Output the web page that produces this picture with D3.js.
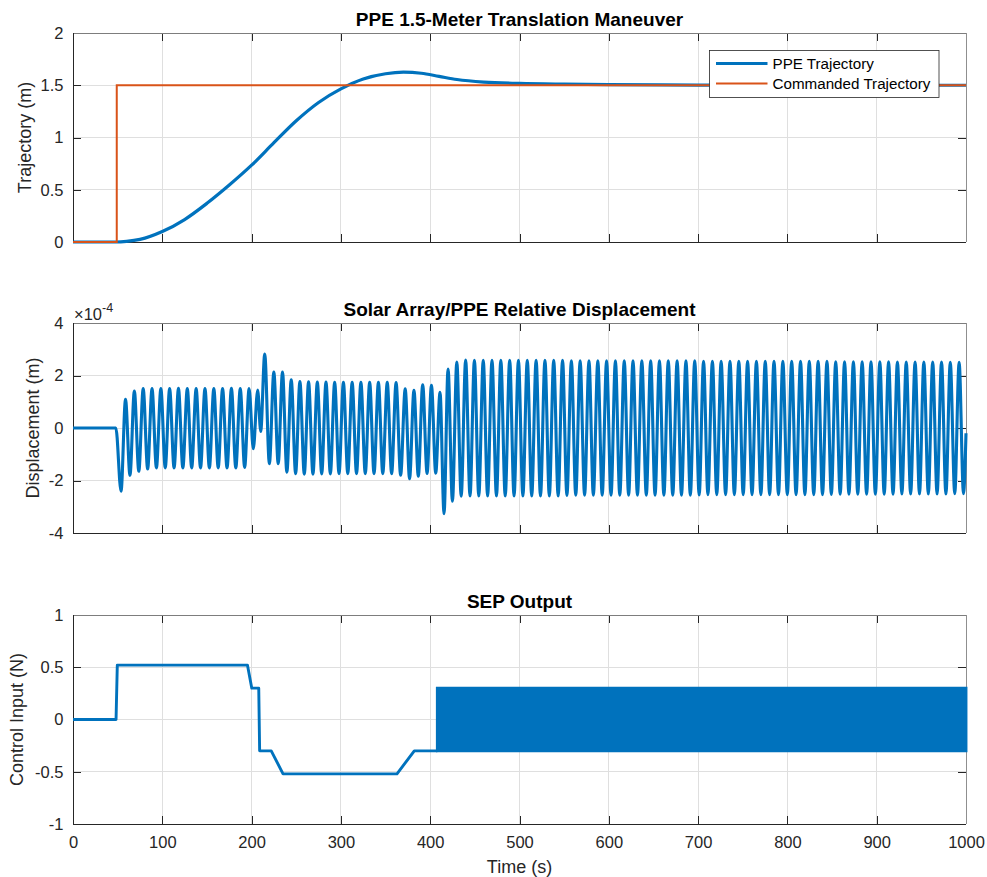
<!DOCTYPE html>
<html>
<head>
<meta charset="utf-8">
<script src="https://cdn.jsdelivr.net/npm/d3@7"></script>
<style>
  body { margin: 0; background: #fff; }
  svg { display: block; }
  text { font-family: "Liberation Sans", Arial, Helvetica, sans-serif; }
</style>
</head>
<body>
<svg id="chart" width="987" height="877"></svg>
<script>
// ---- data -------------------------------------------------------------
const timeTicks = [0, 100, 200, 300, 400, 500, 600, 700, 800, 900, 1000];
const trajTicks = [0, 0.5, 1, 1.5, 2];
const dispTicks = [-4, -2, 0, 2, 4];          // ×10^-4 m
const sepTicks  = [-1, -0.5, 0, 0.5, 1];

// PPE trajectory response (m)
const trajTime = [0, 48, 60, 75, 100, 125, 150, 175, 200, 225, 250, 275, 300, 325, 350, 370, 390, 410, 430, 460, 500, 550, 600, 700, 800, 1000];
const trajPPE  = [0, 0, 0.006, 0.025, 0.10, 0.215, 0.37, 0.545, 0.735, 0.95, 1.16, 1.335, 1.465, 1.56, 1.61, 1.625, 1.615, 1.585, 1.555, 1.53, 1.517, 1.51, 1.506, 1.502, 1.5, 1.5];

// Commanded step (m)
const cmdTime  = [0, 49, 49, 1000];
const cmdValue = [0, 0, 1.5, 1.5];

// Solar array relative displacement: successive turning points [time s, value ×10^-4 m]
const dispExtrema = [
  [0,0],[48,0],
  [53.8,-2.41],[58.8,1.09],[63.8,-1.80],[68.7,1.41],[73.7,-1.65],[78.6,1.50],[83.6,-1.56],[88.5,1.50],
  [93.4,-1.52],[98.4,1.50],[103.3,-1.52],[108.2,1.50],[113.2,-1.52],[118.1,1.51],[123.0,-1.52],[128.0,1.50],
  [132.9,-1.52],[137.9,1.50],[142.8,-1.52],[147.8,1.50],[152.7,-1.52],[157.7,1.50],[162.6,-1.52],[167.5,1.50],
  [172.5,-1.52],[177.4,1.51],[182.3,-1.52],[187.3,1.50],[192.2,-1.50],[197.2,1.50],
  [201.9,-0.79],[206.8,1.45],[210.2,-0.13],[214.7,2.82],[219.9,-1.36],[224.9,2.13],[229.8,-1.36],[234.6,2.13],
  [239.5,-1.68],[244.4,1.84],[249.3,-1.74],[254.1,1.77],[259.0,-1.76],[263.8,1.76],[268.7,-1.76],[273.6,1.75],
  [278.5,-1.75],[283.3,1.75],[288.2,-1.75],[293.0,1.74],[297.9,-1.74],[302.8,1.74],[307.7,-1.74],[312.6,1.74],
  [317.5,-1.74],[322.4,1.74],[327.3,-1.74],[332.2,1.74],[337.1,-1.74],[342.0,1.74],[346.9,-1.74],[351.9,1.74],
  [356.8,-1.74],[361.8,1.73],[366.9,-1.80],[372.0,1.49],[376.9,-1.93],[381.8,1.44],[386.7,-1.84],[391.6,1.65],
  [396.5,-1.73],[401.4,1.63],[406.2,-1.72],[411.0,1.36],[415.5,-3.26],[420.0,2.25],[424.9,-2.79],[429.8,2.51],
  [434.7,-2.60],[439.7,2.59],[444.6,-2.59],
  [449.5,2.58],[454.4,-2.59],[459.4,2.58],[464.3,-2.59],[469.2,2.58],[474.2,-2.59],[479.1,2.58],[484.0,-2.59],
  [489.0,2.58],[493.9,-2.59],[498.8,2.58],[503.8,-2.59],[508.7,2.58],[513.7,-2.59],[518.6,2.58],[523.5,-2.59],
  [528.5,2.58],[533.4,-2.59],[538.3,2.58],[543.3,-2.59],[548.2,2.58],[553.1,-2.57],
  [558.1,2.56],[563.0,-2.56],[567.9,2.56],[572.9,-2.56],[577.8,2.56],[582.7,-2.56],[587.7,2.56],[592.6,-2.56],
  [597.5,2.56],[602.5,-2.56],[607.4,2.56],[612.3,-2.56],[617.3,2.56],[622.2,-2.56],[627.1,2.56],[632.1,-2.56],
  [637.0,2.56],[642.0,-2.56],[646.9,2.56],[651.8,-2.56],[656.7,2.56],[661.7,-2.56],[666.6,2.56],[671.6,-2.56],
  [676.5,2.56],[681.4,-2.56],[686.4,2.56],[691.3,-2.56],[696.2,2.56],[701.2,-2.55],
  [706.1,2.54],[711.0,-2.54],[716.0,2.54],[720.9,-2.54],[725.8,2.54],[730.8,-2.54],[735.7,2.54],[740.6,-2.54],
  [745.6,2.54],[750.5,-2.54],[755.4,2.54],[760.4,-2.54],[765.3,2.54],[770.3,-2.54],[775.2,2.54],[780.1,-2.54],
  [785.0,2.54],[790.0,-2.54],[794.9,2.54],[799.9,-2.54],[804.8,2.54],[809.7,-2.54],[814.7,2.54],[819.6,-2.54],
  [824.5,2.54],[829.5,-2.54],[834.4,2.54],[839.3,-2.54],[844.3,2.54],[849.2,-2.53],
  [854.1,2.52],[859.1,-2.52],[864.0,2.52],[868.9,-2.52],[873.9,2.52],[878.8,-2.52],[883.7,2.52],[888.7,-2.52],
  [893.6,2.52],[898.5,-2.52],[903.5,2.52],[908.4,-2.52],[913.3,2.52],[918.3,-2.52],[923.2,2.51],[928.2,-2.51],
  [933.1,2.51],[938.0,-2.51],[943.0,2.51],[947.9,-2.51],[952.8,2.51],[957.8,-2.51],[962.7,2.51],[967.6,-2.51],
  [972.6,2.51],[977.5,-2.51],[982.4,2.50],[987.4,-2.50],[992.3,2.50],[997.2,-2.50],[1000,-0.20]
];

// SEP thrust command (N) before the switching phase
const sepTime  = [0, 48.2, 49.6, 195.4, 200.2, 208.0, 209.0, 222.0, 235.2, 362.8, 382.2, 408.0];
const sepValue = [0, 0, 0.52, 0.52, 0.30, 0.30, -0.30, -0.30, -0.52, -0.52, -0.30, -0.30];
// envelope of the high-rate ±0.30 N switching after t = 408 s
const sepChatterTime = [408, 1000];
const sepChatterHigh = [0.30, 0.30];
const sepChatterLow  = [-0.30, -0.30];

// ---- layout -----------------------------------------------------------
const BLUE = "#0072BD", ORANGE = "#D95319";
const INK = "#262626", GRID = "#dfdfdf";
const svg = d3.select("#chart");
const x = d3.scaleLinear().domain([0, 1000]).range([73, 966]);

function drawPanel(p) {
  const y = d3.scaleLinear().domain(p.yDomain).range([p.bottom, p.top]);
  const g = svg.append("g");

  // grid
  const grid = g.append("g").attr("shape-rendering", "crispEdges");
  grid.selectAll("line.gx").data(timeTicks).join("line")
    .attr("x1", d => x(d)).attr("x2", d => x(d))
    .attr("y1", p.top).attr("y2", p.bottom)
    .attr("stroke", GRID).attr("stroke-width", 1);
  grid.selectAll("line.gy").data(p.yTicks).join("line")
    .attr("x1", x.range()[0]).attr("x2", x.range()[1])
    .attr("y1", d => y(d)).attr("y2", d => y(d))
    .attr("stroke", GRID).attr("stroke-width", 1);

  // axes with inward ticks on all four sides
  const tick = 8;
  const axL = g.append("g").attr("transform", `translate(${x.range()[0]},0)`)
    .call(d3.axisLeft(y).tickValues(p.yTicks).tickSize(-tick).tickPadding(9.5).tickFormat(d => String(d)));
  const axR = g.append("g").attr("transform", `translate(${x.range()[1]},0)`)
    .call(d3.axisRight(y).tickValues(p.yTicks).tickSize(-tick).tickFormat(""));
  const axT = g.append("g").attr("transform", `translate(0,${p.top})`)
    .call(d3.axisTop(x).tickValues(timeTicks).tickSize(-tick).tickFormat(""));
  const axB = g.append("g").attr("transform", `translate(0,${p.bottom})`)
    .call(d3.axisBottom(x).tickValues(timeTicks).tickSize(-tick).tickPadding(12)
      .tickFormat(p.showX ? (d => String(d)) : ""));
  [axL, axR, axT, axB].forEach(a => {
    a.select(".domain").remove();
    a.attr("shape-rendering", "crispEdges");
    a.selectAll("line").attr("stroke", INK);
    a.selectAll("text").attr("fill", INK).style("font-size", "16.5px");
  });

  // frame
  const frame = g.append("g").attr("shape-rendering", "crispEdges");
  frame.append("line").attr("x1", x.range()[0]).attr("x2", x.range()[1])
    .attr("y1", p.top).attr("y2", p.top).attr("stroke", "#7d7d7d");
  frame.append("line").attr("x1", x.range()[1]).attr("x2", x.range()[1])
    .attr("y1", p.top).attr("y2", p.bottom).attr("stroke", "#8f8f8f");
  frame.append("line").attr("x1", x.range()[0]).attr("x2", x.range()[0])
    .attr("y1", p.top).attr("y2", p.bottom).attr("stroke", INK);
  frame.append("line").attr("x1", x.range()[0]).attr("x2", x.range()[1])
    .attr("y1", p.bottom).attr("y2", p.bottom).attr("stroke", INK);

  // title
  g.append("text").attr("x", (x.range()[0] + x.range()[1]) / 2).attr("y", p.top - 7.5)
    .attr("text-anchor", "middle").style("font-size", "19px").style("font-weight", "bold")
    .attr("fill", "#000").text(p.title);

  // y label
  g.append("text")
    .attr("transform", `translate(${p.ylabelX},${(p.top + p.bottom) / 2}) rotate(-90)`)
    .attr("text-anchor", "middle").style("font-size", "18px").attr("fill", INK)
    .text(p.ylabel);

  return { g, y };
}

// ---- panel 1: trajectory ---------------------------------------------
const p1 = drawPanel({ top: 33, bottom: 242, yDomain: [0, 2], yTicks: trajTicks,
  title: "PPE 1.5-Meter Translation Maneuver", ylabel: "Trajectory (m)", ylabelX: 31, showX: false });

const cmdLine = d3.line().x(i => x(cmdTime[i])).y(i => p1.y(cmdValue[i]));
const trajLine = d3.line().x(i => x(trajTime[i])).y(i => p1.y(trajPPE[i])).curve(d3.curveMonotoneX);

p1.g.append("path").attr("d", trajLine(d3.range(trajTime.length)))
  .attr("fill", "none").attr("stroke", BLUE).attr("stroke-width", 3.2).attr("stroke-linejoin", "round");
p1.g.append("path").attr("d", cmdLine(d3.range(cmdTime.length)))
  .attr("fill", "none").attr("stroke", ORANGE).attr("stroke-width", 2);

// legend
const leg = p1.g.append("g");
leg.append("rect").attr("x", 709.5).attr("y", 50.5).attr("width", 229.5).attr("height", 47)
  .attr("fill", "#fff").attr("stroke", INK).attr("stroke-width", 0.8);
const legendItems = [
  { label: "PPE Trajectory", color: BLUE, w: 3.2 },
  { label: "Commanded Trajectory", color: ORANGE, w: 2 }
];
legendItems.forEach((d, i) => {
  const ly = 63.5 + i * 20;
  leg.append("line").attr("x1", 716).attr("x2", 767.5).attr("y1", ly).attr("y2", ly)
    .attr("stroke", d.color).attr("stroke-width", d.w);
  leg.append("text").attr("x", 772.5).attr("y", ly + 5.5).style("font-size", "15.2px")
    .attr("fill", "#000").text(d.label);
});

// ---- panel 2: displacement -------------------------------------------
const p2 = drawPanel({ top: 323, bottom: 533, yDomain: [-4, 4], yTicks: dispTicks,
  title: "Solar Array/PPE Relative Displacement", ylabel: "Displacement (m)", ylabelX: 39, showX: false });

const dispLine = d3.line().x(d => x(d[0])).y(d => p2.y(d[1])).curve(d3.curveMonotoneX);
p2.g.append("path").attr("d", dispLine(dispExtrema))
  .attr("fill", "none").attr("stroke", BLUE).attr("stroke-width", 3.1).attr("stroke-linejoin", "round");

// exponent label
const expo = p2.g.append("text").attr("x", 74).attr("y", 320).attr("fill", INK).style("font-size", "16.5px");
expo.append("tspan").text("\u00d710");
expo.append("tspan").attr("dy", -8).style("font-size", "12.5px").text("-4");

// ---- panel 3: SEP output ---------------------------------------------
const p3 = drawPanel({ top: 615, bottom: 824, yDomain: [-1, 1], yTicks: sepTicks,
  title: "SEP Output", ylabel: "Control Input (N)", ylabelX: 23, showX: true });

const sepLine = d3.line().x(i => x(sepTime[i])).y(i => p3.y(sepValue[i]));
p3.g.append("path").attr("d", sepLine(d3.range(sepTime.length)))
  .attr("fill", "none").attr("stroke", BLUE).attr("stroke-width", 2.9).attr("stroke-linejoin", "round");

const chatter = d3.area().x(i => x(sepChatterTime[i]))
  .y0(i => p3.y(sepChatterLow[i])).y1(i => p3.y(sepChatterHigh[i]));
p3.g.append("path").attr("d", chatter(d3.range(sepChatterTime.length)))
  .attr("fill", BLUE).attr("stroke", BLUE).attr("stroke-width", 2.9);

// x label
svg.append("text").attr("x", (x.range()[0] + x.range()[1]) / 2).attr("y", 873)
  .attr("text-anchor", "middle").style("font-size", "18px").attr("fill", INK).text("Time (s)");
</script>
</body>
</html>
